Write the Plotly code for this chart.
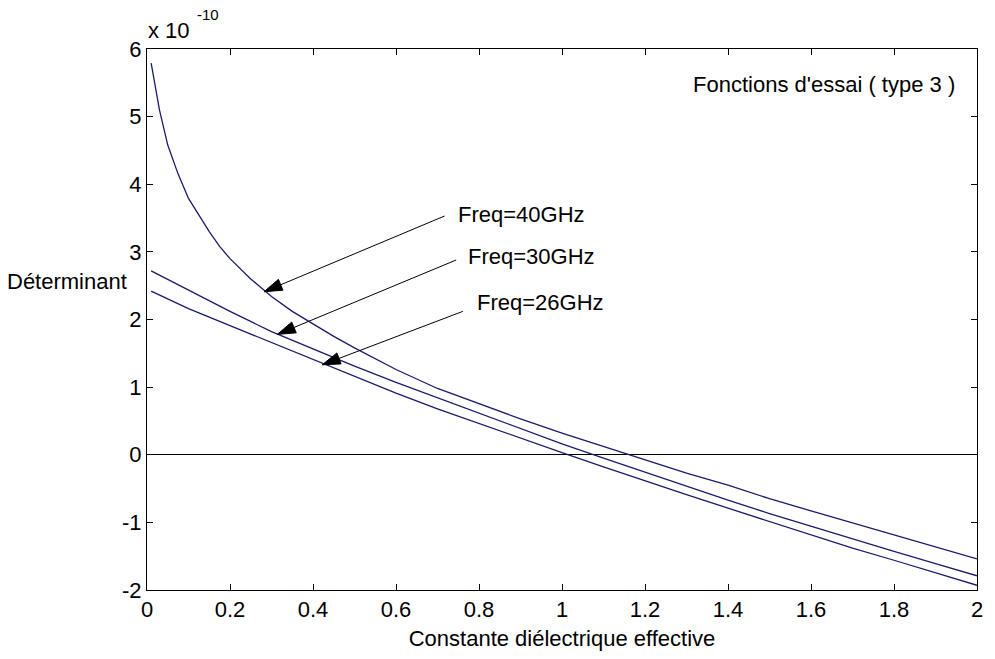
import plotly.graph_objects as go

# ---- data (values in units of 1e-10) ----
x40 = [0.01, 0.03, 0.05, 0.075, 0.10, 0.125, 0.15, 0.175, 0.20, 0.25, 0.30, 0.35, 0.40,
       0.45, 0.50, 0.55, 0.60, 0.70, 0.80, 0.90, 1.00, 1.10, 1.20, 1.30, 1.40, 1.50,
       1.60, 1.70, 1.80, 1.90, 2.00]
y40 = [5.79, 5.10, 4.58, 4.15, 3.79, 3.54, 3.30, 3.08, 2.90, 2.60, 2.34, 2.12, 1.93,
       1.75, 1.58, 1.42, 1.26, 0.98, 0.75, 0.53, 0.32, 0.12, -0.07, -0.27, -0.45, -0.65,
       -0.83, -1.01, -1.19, -1.36, -1.54]

x30 = [0.01, 0.10, 0.20, 0.30, 0.40, 0.50, 0.60, 0.70, 0.80, 0.90, 1.00, 1.10, 1.20,
       1.30, 1.40, 1.50, 1.60, 1.70, 1.80, 1.90, 2.00]
y30 = [2.72, 2.43, 2.12, 1.82, 1.56, 1.31, 1.07, 0.84, 0.61, 0.38, 0.16, -0.05, -0.26,
       -0.47, -0.67, -0.87, -1.06, -1.25, -1.43, -1.61, -1.79]

x26 = [0.01, 0.10, 0.20, 0.30, 0.40, 0.50, 0.60, 0.70, 0.80, 0.90, 1.00, 1.10, 1.20,
       1.30, 1.40, 1.50, 1.60, 1.70, 1.80, 1.90, 2.00]
y26 = [2.42, 2.16, 1.91, 1.66, 1.40, 1.15, 0.91, 0.68, 0.46, 0.24, 0.03, -0.18, -0.39,
       -0.59, -0.79, -0.99, -1.18, -1.38, -1.56, -1.75, -1.93]

x_ticks = [0, 0.2, 0.4, 0.6, 0.8, 1, 1.2, 1.4, 1.6, 1.8, 2]
x_tick_text = ["0", "0.2", "0.4", "0.6", "0.8", "1", "1.2", "1.4", "1.6", "1.8", "2"]
y_ticks = [-2, -1, 0, 1, 2, 3, 4, 5, 6]
y_tick_text = ["-2", "-1", "0", "1", "2", "3", "4", "5", "6"]

labels = ["Freq=40GHz", "Freq=30GHz", "Freq=26GHz"]
label_pos = [(0.744, 3.56), (0.768, 2.93), (0.790, 2.25)]
arrow_tail = [(0.717, 3.53), (0.745, 2.88), (0.761, 2.12)]
arrow_tip = [(0.282, 2.41), (0.314, 1.78), (0.422, 1.33)]

FONT = "Liberation Sans, Arial, sans-serif"
LINE = "#1b1b6e"
FS = 22

fig = go.Figure()
for xs, ys in [(x40, y40), (x30, y30), (x26, y26)]:
    fig.add_trace(go.Scatter(x=xs, y=ys, mode="lines",
                             line=dict(color=LINE, width=1.3), showlegend=False,
                             hoverinfo="skip"))

# annotation arrows: line from tail to tip with an arrow marker at the tip
for (tx, ty), (px, py) in zip(arrow_tail, arrow_tip):
    fig.add_trace(go.Scatter(x=[tx, px], y=[ty, py], mode="lines+markers",
                             line=dict(color="black", width=1),
                             marker=dict(symbol="arrow", size=[0, 19], angleref="previous",
                                         color="black", opacity=1,
                                         line=dict(width=1, color="black")),
                             showlegend=False, hoverinfo="skip"))

ann = []
for t, (lx, ly) in zip(labels, label_pos):
    ann.append(dict(x=lx, y=ly, xref="x", yref="y", text=t, showarrow=False,
                    xanchor="left", yanchor="middle",
                    font=dict(family=FONT, size=FS, color="black")))
ann.append(dict(x=1.311, y=5.47, xref="x", yref="y", text="Fonctions d'essai ( type 3 )",
                showarrow=False, xanchor="left", yanchor="middle",
                font=dict(family=FONT, size=FS, color="black")))
# y label (horizontal)
ann.append(dict(x=(129 - 147) / 836, y=2.56, xref="paper", yref="y", text="Déterminant",
                showarrow=False, xanchor="right", yanchor="middle",
                font=dict(family=FONT, size=FS, color="black")))
# exponent
ann.append(dict(x=(146 - 147) / 836, y=(593 - 30) / 544, xref="paper", yref="paper",
                text="x 10", showarrow=False, xanchor="left", yanchor="middle",
                font=dict(family=FONT, size=FS, color="black")))
ann.append(dict(x=(195 - 147) / 836, y=(593 - 14) / 544, xref="paper", yref="paper",
                text="-10", showarrow=False, xanchor="left", yanchor="middle",
                font=dict(family=FONT, size=15, color="black")))

fig.update_layout(
    width=995, height=659, autosize=False,
    margin=dict(l=147, r=12, t=49, b=66),
    paper_bgcolor="white", plot_bgcolor="white",
    font=dict(family=FONT, size=FS, color="black"),
    annotations=ann,
    xaxis=dict(range=[0, 2], tickvals=x_ticks, ticktext=x_tick_text,
               showline=True, linecolor="black", linewidth=1, mirror="ticks",
               ticks="inside", ticklen=6, tickcolor="black", showgrid=False,
               zeroline=False, tickfont=dict(size=FS),
               title=dict(text="Constante diélectrique effective", standoff=9,
                          font=dict(size=FS))),
    yaxis=dict(range=[-2, 6], tickvals=y_ticks, ticktext=y_tick_text,
               showline=True, linecolor="black", linewidth=1, mirror="ticks",
               ticks="inside", ticklen=6, tickcolor="black", showgrid=False,
               zeroline=True, zerolinecolor="black", zerolinewidth=1,
               tickfont=dict(size=FS)),
)

fig.write_html("out.html")
